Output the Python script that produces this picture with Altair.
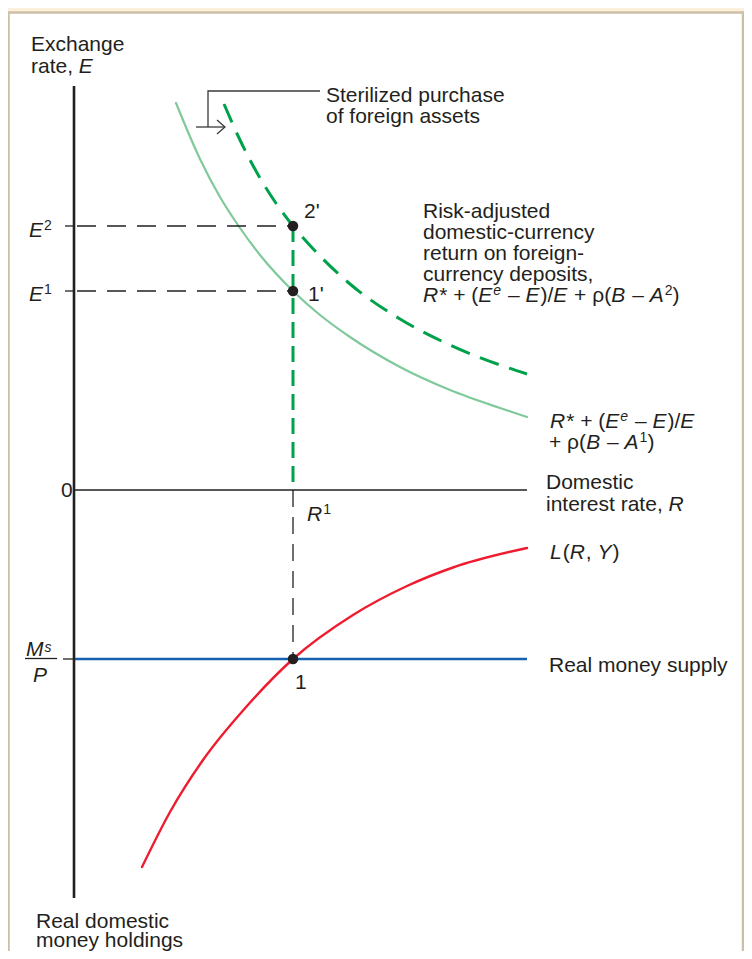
import altair as alt
import pandas as pd

# ---------------- values (1 unit = 10 px of the drawing) ----------------
# x = domestic interest rate R (upper panel) / real money (lower panel); y = exchange rate E (up), money (down)
green1_x = [10.2, 12.6, 14.6, 16.6, 18.6, 21.9, 24.6, 27.6, 32.6, 37.6, 42.6, 45.3]
green1_y = [38.7, 33.1, 29.3, 26.2, 23.5, 19.9, 17.5, 15.3, 12.3, 10.0, 8.2, 7.3]
green2_x = [15.0, 16.6, 18.6, 20.6, 21.9, 24.6, 27.6, 32.6, 37.6, 42.6, 45.3]
green2_y = [38.6, 35.0, 31.2, 28.1, 26.4, 23.4, 20.6, 17.1, 14.5, 12.5, 11.6]
red_x = [6.8, 9.6, 12.9, 17.3, 21.9, 27.9, 33.3, 37.9, 45.3]
red_y = [-37.7, -32.2, -27.0, -21.6, -16.9, -12.5, -9.6, -7.75, -5.8]
R1 = 21.9
E1 = 19.9
E2 = 26.4
MS_P = -16.9
R_END = 45.3
AXIS_TOP = 40.4
AXIS_BOTTOM = -40.8

# ---------------- styling ----------------
INK = "#231F20"
LIGHT_GREEN = "#80C99B"
DARK_GREEN = "#00A14B"
RED = "#EE1C2E"
BLUE = "#1660B0"
CREAM = "#FDF0DA"
FONT = "Liberation Sans"
FS = 21
FS_SUP = 14

W, H = 736, 943
XDOM = [-6.6, 67.0]
YDOM = [-46.1, 48.2]

# advance widths (Arial metrics, /1000 em) for laying out mixed-style text runs
AW = {" ": 278, ",": 278, ".": 278, "-": 333, "(": 333, ")": 333, "*": 389, "+": 584,
      "/": 278, "'": 191, "\u2013": 556, "\u03c1": 578}
for c, w in zip("abcdefghijklmnopqrstuvwxyz",
                [556, 556, 500, 556, 556, 278, 556, 556, 222, 222, 500, 222, 833, 556, 556, 556,
                 556, 333, 500, 278, 556, 500, 722, 500, 500, 500]):
    AW[c] = w
for c, w in zip("ABCDEFGHIJKLMNOPQRSTUVWXYZ",
                [667, 667, 722, 722, 667, 611, 778, 722, 278, 500, 667, 556, 833, 722, 778, 667,
                 778, 722, 667, 611, 722, 667, 944, 667, 667, 611]):
    AW[c] = w
for c in "0123456789":
    AW[c] = 556


def tw(s, fs):
    return sum(AW.get(c, 556) for c in s) * fs / 1000.0


N, I = False, True
HEAD = [("R", I, 0), ("* + (", N, 0), ("E", I, 0), ("e", I, 1), (" \u2013 ", N, 0),
        ("E", I, 0), (")/", N, 0), ("E", I, 0)]
labels = [
    (-4.3, 43.9, [("Exchange", N, 0)]),
    (-4.3, 41.75, [("rate, ", N, 0), ("E", I, 0)]),
    (25.2, 38.85, [("Sterilized purchase", N, 0)]),
    (25.2, 36.75, [("of foreign assets", N, 0)]),
    (34.9, 27.2, [("Risk-adjusted", N, 0)]),
    (34.9, 25.1, [("domestic-currency", N, 0)]),
    (34.9, 23.0, [("return on foreign-", N, 0)]),
    (34.9, 20.9, [("currency deposits,", N, 0)]),
    (34.9, 18.8, HEAD + [(" + \u03c1(", N, 0), ("B", I, 0), (" \u2013 ", N, 0), ("A", I, 0),
                         ("2", N, 1), (")", N, 0)]),
    (47.6, 6.2, HEAD),
    (47.5, 4.1, [("+ \u03c1(", N, 0), ("B", I, 0), (" \u2013 ", N, 0), ("A", I, 0),
                 ("1", N, 1), (")", N, 0)]),
    (47.2, 0.1, [("Domestic", N, 0)]),
    (47.2, -2.05, [("interest rate, ", N, 0), ("R", I, 0)]),
    (47.6, -6.9, [("L", I, 0), ("(", N, 0), ("R", I, 0), (", ", N, 0), ("Y", I, 0), (")", N, 0)]),
    (47.5, -18.2, [("Real money supply", N, 0)]),
    (-3.8, -43.75, [("Real domestic", N, 0)]),
    (-3.8, -45.65, [("money holdings", N, 0)]),
    (-4.5, 25.3, [("E", I, 0), ("2", N, 1)]),
    (-4.5, 18.95, [("E", I, 0), ("1", N, 1)]),
    (-1.3, -0.7, [("0", N, 0)]),
    (23.0, 27.2, [("2'", N, 0)]),
    (23.4, 18.9, [("1'", N, 0)]),
    (22.1, -19.9, [("1", N, 0)]),
    (23.3, -3.1, [("R", I, 0), ("1", N, 1)]),
    (-4.8, -16.6, [("M", I, 0), ("s", I, 2)]),
    (-4.1, -19.15, [("P", I, 0)]),
]

RAISE = {0: 0.0, 1: 7.0, 2: 4.5}
text_rows = []
for x0, y0, runs in labels:
    xp = x0 * 10.0
    for text, ital, kind in runs:
        fs = FS if kind == 0 else FS_SUP
        lead = len(text) - len(text.lstrip(" "))
        body = text.strip(" ")
        if body:
            text_rows.append(dict(x=(xp + tw(" " * lead, fs)) / 10.0,
                                  y=y0 + RAISE[kind] / 10.0, text=body, size=fs, italic=ital))
        xp += tw(text, fs) + (1.0 if ital else 0.0)
text_df = pd.DataFrame(text_rows)

# ---------------- line geometry ----------------
seg_rows = []


def seg(group, pts):
    sid = f"{group}_{len(seg_rows)}"
    for i, (x, y) in enumerate(pts):
        seg_rows.append(dict(group=group, seg=sid, x=x, y=y, o=i))


seg("axis", [(0, AXIS_TOP), (0, AXIS_BOTTOM)])
seg("thin", [(0, 0), (R_END, 0)])
seg("thin", [(-0.9, E2), (0, E2)])
seg("thin", [(-0.9, E1), (0, E1)])
seg("thin", [(-1.1, MS_P), (0, MS_P)])
seg("thin", [(-4.9, -16.85), (-1.7, -16.85)])
seg("blue", [(0, MS_P), (R_END, MS_P)])
seg("edash", [(0.3, E2), (R1, E2)])
seg("edash", [(0.3, E1), (R1, E1)])
seg("vdash", [(R1, 0), (R1, MS_P)])
seg("gdash", [(R1, E2), (R1, 0)])
seg("g1", list(zip(green1_x, green1_y)))
seg("g2", list(zip(green2_x, green2_y)))
seg("red", list(zip(red_x, red_y)))
seg("arrow", [(13.4, 36.3), (13.4, 39.9), (24.6, 39.9)])
seg("arrow", [(12.2, 36.3), (15.1, 36.3)])
seg("arrow", [(14.3, 37.0), (15.1, 36.3), (14.3, 35.6)])
seg_df = pd.DataFrame(seg_rows)

X = lambda f="x": alt.X(f"{f}:Q", scale=alt.Scale(domain=XDOM, nice=False, zero=False), axis=None)
Y = lambda f="y": alt.Y(f"{f}:Q", scale=alt.Scale(domain=YDOM, nice=False, zero=False), axis=None)


def line_layer(group, color, width, dash=None, interp="linear", cap="butt"):
    kw = dict(color=color, strokeWidth=width, interpolate=interp, strokeCap=cap)
    if dash is not None:
        kw["strokeDash"] = dash
    return alt.Chart(seg_df[seg_df.group == group]).mark_line(**kw).encode(
        x=X(), y=Y(), detail="seg:N", order="o:Q")


panel = alt.Chart(pd.DataFrame([dict(x=-6.55, x2=66.9, y=47.75, y2=-48.0)])).mark_rect(
    fill="white", stroke="#CDBFA6", strokeWidth=2.5).encode(
    x=X(), x2="x2:Q", y=Y(), y2="y2:Q")

layers = [
    panel,
    line_layer("g1", LIGHT_GREEN, 2.2, interp="monotone", cap="round"),
    line_layer("g2", DARK_GREEN, 3, dash=[20, 11], interp="monotone"),
    line_layer("red", RED, 2.4, interp="monotone", cap="round"),
    line_layer("thin", INK, 1.3),
    line_layer("blue", BLUE, 2.6),
    line_layer("edash", INK, 1.3, dash=[19, 11]),
    line_layer("vdash", INK, 1.3, dash=[17, 10]),
    line_layer("gdash", DARK_GREEN, 3, dash=[16, 8]),
    line_layer("axis", INK, 2.6),
    line_layer("arrow", "#3A3A3A", 1.3),
]

pts = pd.DataFrame(dict(x=[R1, R1, R1], y=[E2, E1, MS_P]))
layers.append(alt.Chart(pts).mark_point(filled=True, size=110, color=INK, opacity=1).encode(
    x=X(), y=Y()))

for ital in (False, True):
    sub = text_df[text_df.italic == ital]
    kw = dict(align="left", baseline="alphabetic", font=FONT, color=INK)
    if ital:
        kw["fontStyle"] = "italic"
    layers.append(alt.Chart(sub).mark_text(**kw).encode(
        x=X(), y=Y(), text="text:N", size=alt.Size("size:Q", scale=None)))

chart = alt.layer(*layers).properties(
    width=W, height=H, background=CREAM, padding=0,
    autosize=alt.AutoSizeParams(type="none")
).configure_view(stroke=None)

chart.save("out.html", embed_options={"renderer": "svg", "actions": False})
